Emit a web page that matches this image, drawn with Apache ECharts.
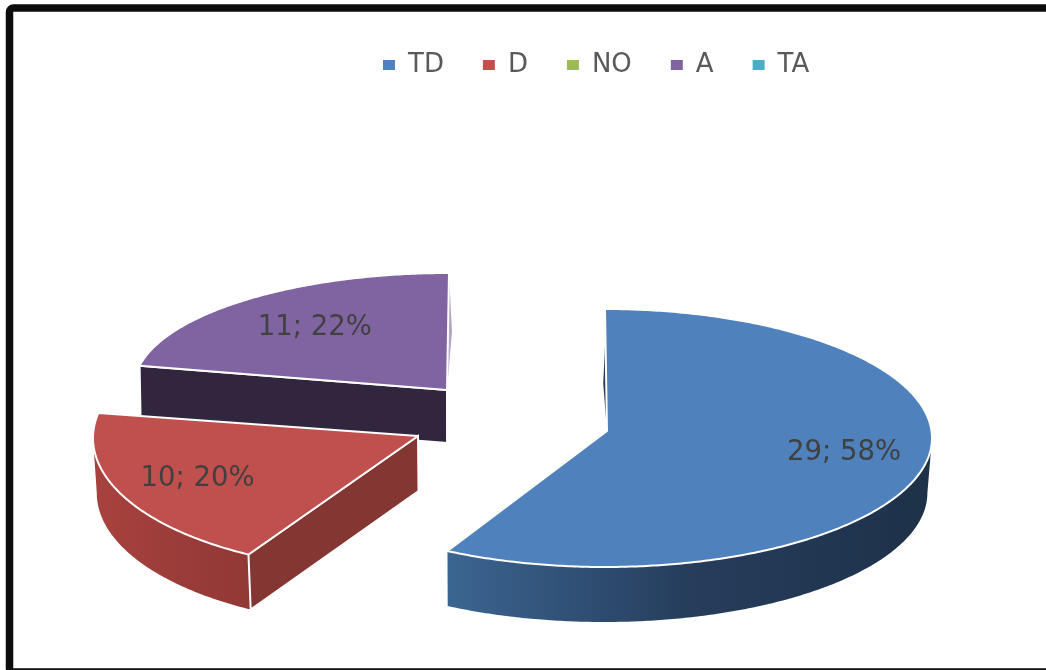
<!DOCTYPE html>
<html>
<head>
<meta charset="utf-8">
<style>
  html, body { margin: 0; padding: 0; background: #fff; }
  #chart { width: 1046px; height: 670px; }
</style>
<script src="https://cdn.jsdelivr.net/npm/echarts@6/dist/echarts.min.js"></script>
</head>
<body>
<div id="chart"></div>
<script>
// Responses per answer option
const categories = ['TD', 'D', 'NO', 'A', 'TA'];
const counts = [29, 10, 0, 11, 0];
const colors = ['#4f81bd', '#c0504d', '#9bbb59', '#8064a2', '#4bacc6'];

// Exploded 3D pie layout: ellipse, apex, extrusion and shading of each wedge
const wedgeLayout = {
  TD: {
    z: 3, cx: 605, cy: 438, rx: 327, ry: 129, apexX: 607, apexY: 431, depth: 55, shrink: 0.01,
    labelAt: 0.755, labelDy: -9,
    wall: ['#3b6591', '#263d5c', '#1d3148'], face: null,
    sliver: { color: '#2a3a50', from: 0.22, to: 1, bulge: -3 }
  },
  D: {
    z: 2, cx: 393, cy: 438, rx: 300, ry: 133, apexX: 418, apexY: 436, depth: 55, shrink: 0.01,
    labelAt: 0.72, labelDy: 0,
    wall: ['#a8423e', '#9c3d3a', '#913835'], face: '#843632', sliver: null
  },
  A: {
    z: 1, cx: 449, cy: 387, rx: 315, ry: 114, apexX: 447, apexY: 390, depth: 53, shrink: 0.003,
    labelAt: 0.668, labelDy: 0,
    wall: null, face: '#32263f',
    sliver: { color: '#b3a4c8', from: 0, to: 1, bulge: 4 }
  }
};
const vanishX = 470;

const total = counts.reduce((a, b) => a + b, 0);

// Wedge angles run clockwise from twelve o'clock
function wedgeAngles(index) {
  const before = counts.slice(0, index).reduce((a, b) => a + b, 0);
  return [before / total * 2 * Math.PI, (before + counts[index]) / total * 2 * Math.PI];
}

function rim(g, theta) {
  return [g.cx + g.rx * Math.sin(theta), g.cy - g.ry * Math.cos(theta)];
}

function lowered(g, p) {
  return [p[0] + (vanishX - p[0]) * g.shrink, p[1] + g.depth];
}

function arc(g, from, to) {
  const steps = Math.max(2, Math.ceil(Math.abs(to - from) / 0.01));
  const pts = [];
  for (let i = 0; i <= steps; i++) pts.push(rim(g, from + (to - from) * i / steps));
  return pts;
}

function renderWedge(index) {
  return function (params, api) {
    const value = api.value(0);
    if (!value) return null;
    const g = wedgeLayout[categories[index]];
    const [start, end] = wedgeAngles(index);
    const apex = [g.apexX, g.apexY];
    const children = [];

    // Outer wall, only along the part of the rim that faces the viewer
    const wallFrom = Math.max(start, Math.PI / 2);
    const wallTo = Math.min(end, 3 * Math.PI / 2);
    if (g.wall && wallTo > wallFrom) {
      const upper = arc(g, wallFrom, wallTo);
      const lower = upper.map(p => lowered(g, p)).reverse();
      children.push({
        type: 'polygon',
        shape: { points: upper.concat(lower) },
        style: {
          fill: {
            type: 'linear', x: 0, y: 0, x2: 1, y2: 0,
            colorStops: g.wall.map((c, i) => ({ offset: i / (g.wall.length - 1), color: c }))
          }
        }
      });
    }

    // Cut face below the leading edge of the wedge
    if (g.face) {
      const outer = rim(g, start);
      children.push({
        type: 'polygon',
        shape: { points: [apex, outer, lowered(g, outer), lowered(g, apex)] },
        style: { fill: g.face, stroke: '#fff', lineWidth: 2 }
      });
    }

    // Narrow strip of the far cut face showing past the top surface
    if (g.sliver) {
      const edgeRim = index === 0 ? rim(g, start) : rim(g, end);
      const along = t => [edgeRim[0] + (apex[0] - edgeRim[0]) * t, edgeRim[1] + (apex[1] - edgeRim[1]) * t];
      const mid = along((g.sliver.from + g.sliver.to) / 2);
      children.push({
        type: 'polygon',
        shape: { points: [along(g.sliver.from), [mid[0] + g.sliver.bulge, mid[1]], along(g.sliver.to)] },
        style: { fill: g.sliver.color }
      });
    }

    // Top surface
    children.push({
      type: 'polygon',
      shape: { points: [apex].concat(arc(g, start, end)) },
      style: { fill: colors[index], stroke: '#fff', lineWidth: 2, lineJoin: 'round' }
    });

    // Value label
    const mid = (start + end) / 2;
    const at = [
      g.cx + g.rx * g.labelAt * Math.sin(mid),
      g.cy - g.ry * g.labelAt * Math.cos(mid) + g.labelDy
    ];
    children.push({
      type: 'text',
      style: {
        text: value + '; ' + Math.round(value / total * 100) + '%',
        x: at[0], y: at[1],
        align: 'center', verticalAlign: 'middle',
        fontFamily: 'DejaVu Sans', fontSize: 27.5, fill: '#404040'
      }
    });

    return { type: 'group', children };
  };
}

const chart = echarts.init(document.getElementById('chart'), null, { renderer: 'canvas' });

chart.setOption({
  animation: false,
  backgroundColor: '#fff',
  legend: {
    left: 378,
    top: 47,
    icon: 'rect',
    itemWidth: 12,
    itemHeight: 10,
    itemGap: 39,
    selectedMode: false,
    data: categories,
    textStyle: {
      fontFamily: 'DejaVu Sans',
      fontSize: 26,
      color: '#595959',
      padding: [0, 0, 0, 8]
    }
  },
  graphic: [{
    type: 'rect',
    silent: true,
    shape: { x: 9.5, y: 8, width: 1060, height: 664, r: 4 },
    style: { fill: 'transparent', stroke: '#0d0d0d', lineWidth: 7.5 }
  }],
  series: categories.map((name, i) => ({
    type: 'custom',
    name,
    coordinateSystem: 'none',
    z: wedgeLayout[name] ? wedgeLayout[name].z : 1,
    itemStyle: { color: colors[i] },
    data: [counts[i]],
    renderItem: renderWedge(i)
  }))
});
</script>
</body>
</html>
